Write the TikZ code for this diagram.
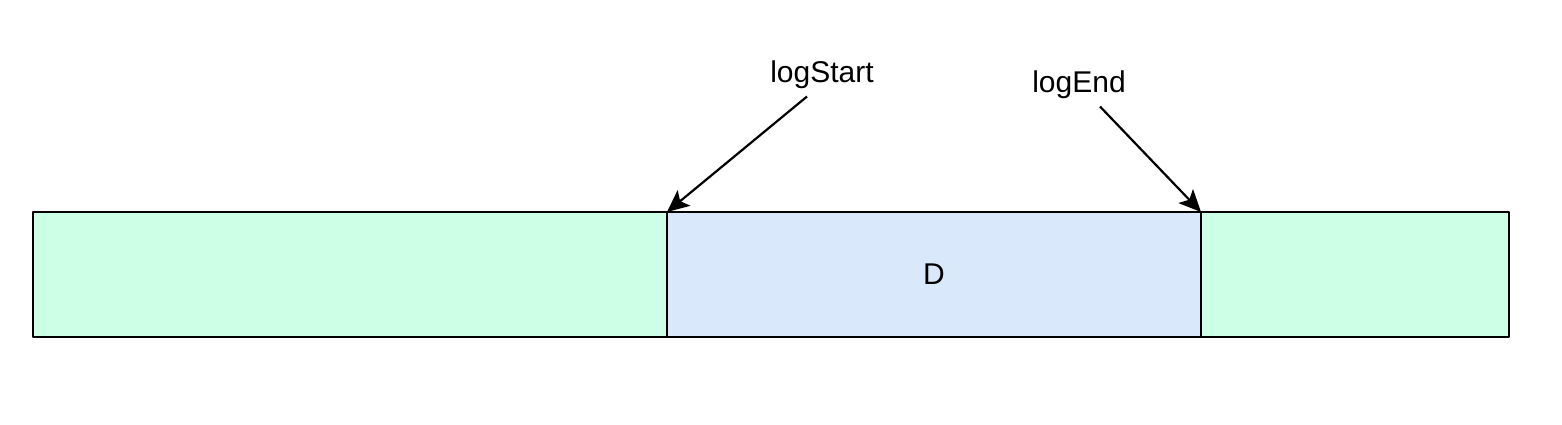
\documentclass[tikz,border=0pt]{standalone}
\usepackage{fontspec}
\setmainfont{Liberation Sans}
\usetikzlibrary{positioning,arrows.meta}
\definecolor{segGreen}{HTML}{CCFFE6}
\definecolor{segBlue}{HTML}{DAE8FC}
\begin{document}
\begin{tikzpicture}[x=1pt,y=-1pt,line join=round,font=\fontsize{30}{36}\selectfont,>={Stealth[length=22pt,width=20pt,inset=5pt]},
	seg/.style={draw,line width=2.5pt,minimum height=125pt,outer sep=0pt,inner sep=0pt}]
	\useasboundingbox (0,0) rectangle (1562,424);
	\node[seg,fill=segGreen,minimum width=634pt,anchor=north west] (left) at (33,212) {};
	\node[seg,fill=segBlue,minimum width=534pt,right=0pt of left] (mid) {D};
	\node[seg,fill=segGreen,minimum width=308pt,right=0pt of mid] (right) {};
	\node (logStart) at (822,75) {logStart};
	\node (logEnd) at (1079,85) {logEnd};
	\draw[->,line width=2.2pt] ([xshift=-15pt,yshift=-4pt]logStart.south)--(mid.north west);
	\draw[->,line width=2.2pt] ([xshift=21pt,yshift=-4pt]logEnd.south)--(mid.north east);
\end{tikzpicture}
\end{document}
